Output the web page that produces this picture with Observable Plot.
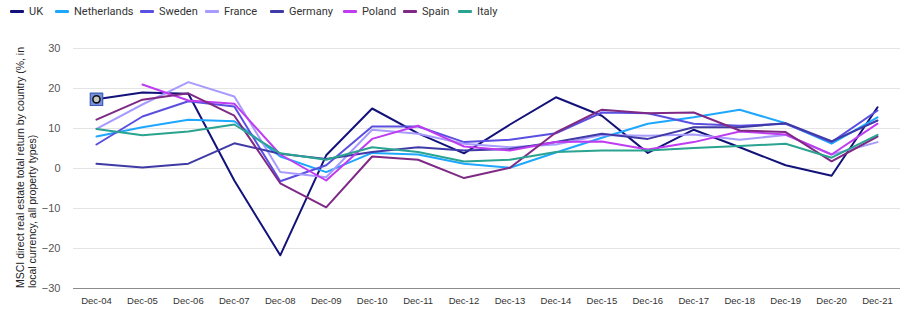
<!DOCTYPE html>
<html>
<head>
<meta charset="utf-8">
<script src="https://cdn.jsdelivr.net/npm/d3@7"></script>
<script src="https://cdn.jsdelivr.net/npm/@observablehq/plot@0.6"></script>
<style>
  html, body { margin: 0; padding: 0; background: #fff; }
  #wrap { position: relative; width: 906px; height: 324px; overflow: hidden; }
  #legend { position: relative; height: 25px; font-family: Roboto, "Liberation Sans", sans-serif; font-size: 11px; color: #333; }
  .item { position: absolute; top: 5px; display: flex; align-items: center; white-space: nowrap; }
  .sw { width: 14px; height: 3px; margin-right: 5px; border-radius: 1px; }
</style>
</head>
<body>
<div id="wrap">
  <div id="legend"></div>
  <div id="chart"></div>
</div>
<script>
const years = ["Dec-04","Dec-05","Dec-06","Dec-07","Dec-08","Dec-09","Dec-10","Dec-11","Dec-12","Dec-13","Dec-14","Dec-15","Dec-16","Dec-17","Dec-18","Dec-19","Dec-20","Dec-21"];
const countries = ["UK","Netherlands","Sweden","France","Germany","Poland","Spain","Italy"];
const colors = ["#12127a","#1ea7ff","#5a4fe0","#a79bff","#3f3aa6","#c03cf0","#7e2a85","#2aa390"];
const yTicks = [30, 20, 10, 0, -10, -20, -30];

const uk          = [17.3, 19, 18.7, -3, -21.7, 3.3, 15, 8.8, 3.8, 11, 17.8, 13.2, 3.9, 9.7, 5.3, 0.8, -1.8, 15.3];
const netherlands = [8, 10.3, 12.2, 11.8, 3, -0.9, 3.9, 3.5, 1.2, 0.2, 4, 7.7, 11.2, 12.8, 14.7, 11.3, 6.2, 12.8];
const sweden      = [6, 13, 16.8, 15.5, -3.2, 0.8, 10.5, 10.5, 6.6, 7.2, 8.8, 14, 13.8, 11.2, 10.7, 11.2, 6.6, 14.5];
const france      = [9.9, 16, 21.6, 18, -0.9, -2.2, 9.7, 8.7, 6.2, 5.3, 6, 8.4, 8.2, 8.5, 7.2, 8.4, 3.5, 6.6];
const germany     = [1.2, 0.25, 1.2, 6.3, 3.7, 2.4, 4.1, 5.3, 4.5, 4.9, 6.6, 8.7, 7.4, 10.3, 10.3, 11.3, 6.8, 12];
const poland      = [null, 21, 17, 16.2, 3.5, -3, 7.4, 10.7, 5.5, 4.5, 6.6, 6.75, 4.75, 6.6, 9.25, 8.5, 3.5, 11.2];
const spain       = [12.2, 17.2, 18.8, 13.2, -3.7, -9.7, 3, 2.2, -2.4, 0.2, 9, 14.7, 13.8, 14, 9.5, 9.1, 1.8, 8];
const italy       = [9.9, 8.3, 9.25, 11, 3.8, 2.2, 5.3, 4.1, 1.75, 2.2, 4.1, 4.5, 4.5, 5.1, 5.6, 6.2, 2.7, 8.4];

const series = [uk, netherlands, sweden, france, germany, poland, spain, italy];
const data = [];
countries.forEach((c, i) => {
  series[i].forEach((v, j) => { if (v != null) data.push({country: c, year: years[j], value: v}); });
});
const firstUK = [{year: years[0], value: uk[0]}];

// legend
const legendPos = [10, 55, 140, 205, 270, 343, 403, 458];
const legend = document.getElementById("legend");
countries.forEach((c, i) => {
  const it = document.createElement("div");
  it.className = "item";
  it.style.left = legendPos[i] + "px";
  it.innerHTML = `<span class="sw" style="background:${colors[i]}"></span><span>${c}</span>`;
  legend.appendChild(it);
});

const plot = Plot.plot({
  width: 906,
  height: 299,
  marginLeft: 73,
  marginRight: 6,
  marginTop: 23,
  marginBottom: 36,
  style: {fontFamily: "'Liberation Sans', Arial, sans-serif", fontSize: "10px", color: "#444", background: "#fff"},
  x: {type: "point", domain: years, padding: 0.5, round: false, label: null},
  y: {domain: [-30, 30], label: null},
  color: {domain: countries, range: colors},
  marks: [
    Plot.gridY(yTicks.filter(d => d !== -30), {stroke: "#e4e4e4", strokeOpacity: 1, strokeWidth: 1}),
    Plot.ruleY([-30], {stroke: "#8c8c8c", strokeWidth: 1.2}),
    Plot.axisY(yTicks, {tickSize: 0, tickPadding: 13, fontSize: 11, fill: "#555"}),
    Plot.axisX(years, {tickSize: 0, tickPadding: 9, fontSize: 9.5, fill: "#333"}),
    Plot.line(data, {x: "year", y: "value", z: "country", stroke: "country", strokeWidth: 2, curve: "linear"}),
    Plot.dot(firstUK, {x: "year", y: "value", symbol: "square", r: 7, fill: "#7590dc", stroke: "#3d5bb5", strokeWidth: 1.2, strokeLinejoin: "round"}),
    Plot.dot(firstUK, {x: "year", y: "value", r: 3.6, fill: "#c8c8c8", stroke: "#111", strokeWidth: 1.6})
  ]
});
document.getElementById("chart").appendChild(plot);

// rotated y-axis title (two lines)
const svg = d3.select(plot);
const lab = svg.append("text")
  .attr("transform", "translate(20,263) rotate(-90)")
  .attr("text-anchor", "start")
  .attr("font-family", "'Liberation Sans', Arial, sans-serif")
  .attr("font-size", 10.5)
  .attr("fill", "#222");
lab.append("tspan").attr("x", 0).attr("dy", "0.35em").text("MSCI direct real estate total return by country (%, in");
lab.append("tspan").attr("x", 0).attr("dy", "1.2em").text("local currency, all property types)");
</script>
</body>
</html>
